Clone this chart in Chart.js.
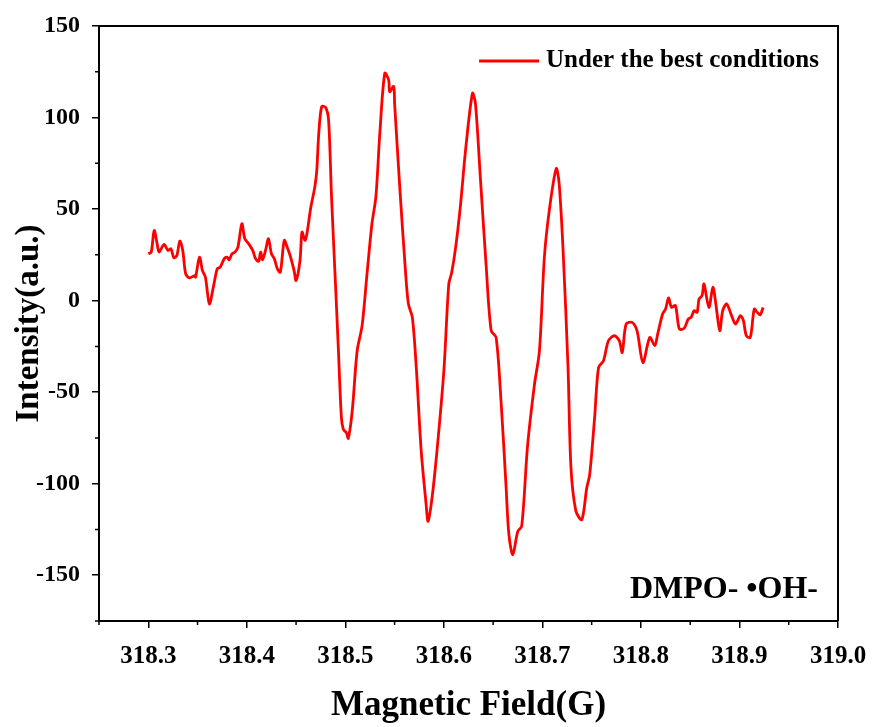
<!DOCTYPE html>
<html>
<head>
<meta charset="utf-8">
<script src="https://cdn.jsdelivr.net/npm/chart.js@4.4.0/dist/chart.umd.min.js"></script>
<style>
  html, body { margin: 0; padding: 0; background: #fff; }
  #wrap { width: 872px; height: 727px; }
</style>
</head>
<body>
<div id="wrap"><canvas id="esrChart"></canvas></div>
<script>
// EPR spectrum
const fieldG = [
  318.300, 318.303, 318.306, 318.309, 318.311, 318.316, 318.320, 318.323, 318.326, 318.329,
  318.332, 318.335, 318.338, 318.342, 318.347, 318.348, 318.352, 318.355, 318.358, 318.362,
  318.366, 318.370, 318.373, 318.377, 318.380, 318.382, 318.385, 318.388, 318.391, 318.395,
  318.398, 318.402, 318.406, 318.409, 318.412, 318.414, 318.416, 318.419, 318.422, 318.425,
  318.428, 318.431, 318.434, 318.438, 318.441, 318.444, 318.448, 318.450, 318.454, 318.456,
  318.459, 318.461, 318.465, 318.469, 318.471, 318.473, 318.476, 318.480, 318.483, 318.486,
  318.490, 318.493, 318.496, 318.498, 318.501, 318.503, 318.507, 318.512, 318.517, 318.522,
  318.527, 318.531, 318.535, 318.540, 318.544, 318.545, 318.549, 318.550, 318.555, 318.561,
  318.564, 318.568, 318.572, 318.577, 318.582, 318.584, 318.588, 318.593, 318.600, 318.605,
  318.608, 318.612, 318.617, 318.622, 318.629, 318.632, 318.637, 318.643, 318.648, 318.653,
  318.658, 318.663, 318.666, 318.670, 318.675, 318.679, 318.685, 318.692, 318.697, 318.702,
  318.707, 318.714, 318.717, 318.721, 318.726, 318.729, 318.734, 318.740, 318.745, 318.748,
  318.753, 318.757, 318.762, 318.767, 318.773, 318.778, 318.781, 318.785, 318.791, 318.796,
  318.802, 318.809, 318.814, 318.817, 318.822, 318.825, 318.828, 318.831, 318.835, 318.839,
  318.844, 318.848, 318.851, 318.854, 318.857, 318.859, 318.862, 318.864, 318.869, 318.873,
  318.876, 318.880, 318.883, 318.887, 318.892, 318.896, 318.901, 318.904, 318.907, 318.911,
  318.915, 318.918, 318.921, 318.924
];
const intensity = [
  25.6, 26.5, 38.3, 31.0, 26.5, 30.7, 27.4, 28.3, 23.4, 24.6,
  32.5, 27.4, 14.6, 12.4, 13.7, 12.8, 23.7, 16.4, 12.8, -1.8,
  7.3, 17.4, 18.3, 22.8, 23.7, 22.3, 25.6, 26.5, 29.2, 42.0,
  33.8, 31.0, 27.4, 22.8, 21.5, 26.5, 22.3, 27.4, 33.8, 25.6,
  22.8, 17.4, 15.5, 32.9, 29.2, 24.6, 16.4, 11.0, 21.9, 37.4,
  32.9, 36.5, 51.1, 62.0, 71.0, 91.0, 106.0, 105.5, 98.6, 56.6,
  9.1, -27.4, -63.9, -70.3, -72.1, -75.2, -60.2, -27.4, -13.7, 14.6,
  42.0, 56.6, 91.3, 124.2, 120.5, 114.1, 117.0, 107.9, 63.9, 16.4,
  -1.8, -9.1, -36.5, -82.1, -111.3, -120.5, -107.7, -82.1, -38.3, 9.1,
  15.5, 29.2, 52.9, 82.1, 113.2, 107.9, 67.5, 18.3, -16.4, -20.1,
  -54.8, -100.4, -127.8, -138.8, -126.0, -123.2, -79.0, -45.6, -27.4, 23.7,
  49.3, 72.1, 63.9, 27.4, -36.5, -91.3, -115.0, -119.6, -102.3, -95.0,
  -63.9, -36.5, -32.9, -21.9, -19.2, -21.9, -28.3, -12.8, -11.9, -16.4,
  -33.8, -20.1, -24.6, -18.3, -7.3, -4.6, 1.5, -3.7, -2.7, -15.5,
  -15.0, -10.0, -9.1, -5.5, -6.4, 0.9, 2.7, 9.1, -3.7, 7.3,
  -1.8, -16.4, -5.5, -1.8, -8.2, -12.8, -8.2, -11.0, -19.2, -20.1,
  -4.6, -6.4, -7.8, -3.7
];
const seriesLabel = 'Under the best conditions';
const xTitle = 'Magnetic Field(G)';
const yTitle = 'Intensity(a.u.)';
const noteText = 'DMPO- \u2022OH-';
const xMinorTicks = [318.25, 318.35, 318.45, 318.55, 318.65, 318.75, 318.85, 318.95];
const yMinorTicks = [125, 75, 25, -25, -75, -125, -175];

const serif = '"Liberation Serif", "Times New Roman", serif';

// frame, minor ticks, legend and the note in the lower right corner
const framePlugin = {
  id: 'frame',
  afterDraw(chart) {
    const { ctx, chartArea: a, scales } = chart;
    ctx.save();
    ctx.strokeStyle = '#000';
    ctx.lineWidth = 2;
    ctx.beginPath();
    ctx.moveTo(a.left, a.top);
    ctx.lineTo(a.right, a.top);
    ctx.lineTo(a.right, a.bottom);
    ctx.stroke();

    ctx.lineWidth = 1.5;
    ctx.beginPath();
    xMinorTicks.forEach((v) => {
      const px = scales.x.getPixelForValue(v);
      ctx.moveTo(px, a.bottom);
      ctx.lineTo(px, a.bottom + 4);
    });
    yMinorTicks.forEach((v) => {
      const py = scales.y.getPixelForValue(v);
      ctx.moveTo(a.left, py);
      ctx.lineTo(a.left - 4, py);
    });
    ctx.stroke();

    // legend entry, top right inside the frame
    const ds = chart.data.datasets[0];
    ctx.font = 'bold 25px ' + serif;
    ctx.textAlign = 'right';
    ctx.textBaseline = 'middle';
    ctx.fillStyle = '#000';
    const textRight = a.right - 19;
    const ly = a.top + 35;
    ctx.fillText(ds.label, textRight, ly);
    const textLeft = textRight - ctx.measureText(ds.label).width;
    ctx.strokeStyle = ds.borderColor;
    ctx.lineWidth = ds.borderWidth;
    ctx.beginPath();
    ctx.moveTo(textLeft - 67, ly);
    ctx.lineTo(textLeft - 7, ly);
    ctx.stroke();

    ctx.font = 'bold 32px ' + serif;
    ctx.textBaseline = 'alphabetic';
    ctx.fillText(noteText, a.right - 20, a.bottom - 23);
    ctx.restore();
  }
};

const ctx = document.getElementById('esrChart');
new Chart(ctx, {
  type: 'line',
  data: {
    labels: fieldG,
    datasets: [{
      label: seriesLabel,
      data: fieldG.map((x, i) => ({ x: x, y: intensity[i] })),
      borderColor: 'rgb(255, 0, 0)',
      backgroundColor: 'rgb(255, 0, 0)',
      borderWidth: 2.8,
      pointRadius: 0,
      tension: 0.3,
      fill: false
    }]
  },
  options: {
    responsive: true,
    maintainAspectRatio: false,
    animation: false,
    layout: { padding: { top: 26, right: 34, left: 0, bottom: 0 } },
    plugins: {
      legend: { display: false },
      tooltip: { enabled: false }
    },
    scales: {
      x: {
        type: 'linear',
        min: 318.25,
        max: 319.0,
        border: { color: '#000', width: 2 },
        grid: { drawOnChartArea: false, color: '#000', lineWidth: 1.5, tickLength: 7 },
        ticks: {
          stepSize: 0.1,
          includeBounds: false,
          color: '#000',
          padding: 14,
          font: { family: serif, size: 25, weight: 'bold' },
          callback: (v) => v.toFixed(1)
        },
        title: {
          display: true,
          text: xTitle,
          color: '#000',
          padding: { top: 10, bottom: 0 },
          font: { family: serif, size: 35, weight: 'bold' }
        },
        afterFit: (scale) => {
          scale.height = 106;
          scale.paddingLeft = 0;
          scale.paddingRight = 0;
        }
      },
      y: {
        min: -175,
        max: 150,
        border: { color: '#000', width: 2 },
        grid: { drawOnChartArea: false, color: '#000', lineWidth: 1.5, tickLength: 7 },
        ticks: {
          stepSize: 50,
          includeBounds: false,
          color: '#000',
          padding: 12,
          font: { family: serif, size: 24, weight: 'bold' }
        },
        title: {
          display: true,
          text: yTitle,
          color: '#000',
          padding: { top: 10, bottom: 4 },
          font: { family: serif, size: 33, weight: 'bold' }
        },
        afterFit: (scale) => {
          scale.width = 99;
          scale.paddingTop = 0;
          scale.paddingBottom = 0;
        }
      }
    }
  },
  plugins: [framePlugin]
});
</script>
</body>
</html>
